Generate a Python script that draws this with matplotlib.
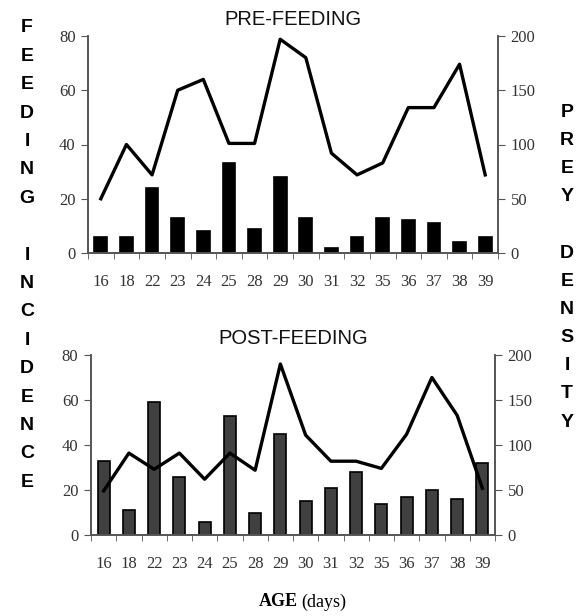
import numpy as np
import matplotlib.pyplot as plt
from matplotlib.ticker import FixedLocator

#---------------------data-------------------------------------------------------------------------
days = ['16', '18', '22', '23', '24', '25', '28', '29', '30', '31', '32', '35', '36', '37', '38', '39']

# feeding incidence (left axis, bars)
pre_feeding = [6, 6, 24, 13, 8, 33, 9, 28, 13, 2, 6, 13, 12, 11, 4, 6]
post_feeding = [33, 11, 59, 26, 6, 53, 10, 45, 15, 21, 28, 14, 17, 20, 16, 32]

# prey density (right axis, line)
pre_prey = [50, 100, 72, 150, 160, 101, 101, 197, 180, 92, 72, 83, 134, 134, 174, 72]
post_prey = [49, 91, 73, 91, 62, 91, 72, 190, 111, 82, 82, 74, 112, 175, 133, 52]

serif = 'Liberation Serif'
sans = 'Liberation Sans'
axcol = '#555555'
txtcol = '#333333'

#---------------------one panel--------------------------------------------------------------------
def style_labels(labels):
    for lab in labels:
        lab.set_fontfamily(serif)
        lab.set_fontsize(12)
        lab.set_color(txtcol)

def panel(rect, bars, prey, title, barcolor, width):
    ax = fig.add_axes(rect)
    x = np.arange(len(days))
    ax.bar(x, bars, width=width, color=barcolor, edgecolor='black', linewidth=1.2, zorder=2)
    ax.set_xlim(-0.5, len(days) - 0.5)
    ax.set_ylim(0, 80)
    ax.set_yticks([0, 20, 40, 60, 80])
    ax.set_xticks(x)
    ax.set_xticklabels(days)
    ax.xaxis.set_minor_locator(FixedLocator(np.arange(-0.5, len(days), 1.0)))
    ax.tick_params(axis='x', which='major', length=0, pad=15)
    ax.tick_params(axis='x', which='minor', length=4, color=axcol, direction='out')
    ax.tick_params(axis='y', length=5, color=axcol, pad=4)
    style_labels(ax.get_xticklabels() + ax.get_yticklabels())
    ax.spines['top'].set_visible(False)
    for s in ['left', 'right', 'bottom']:
        ax.spines[s].set_color(axcol)
        ax.spines[s].set_linewidth(1.2)

    ax2 = ax.twinx()
    ax2.plot(x, prey, color='black', linewidth=2.4, zorder=3)
    ax2.set_ylim(0, 200)
    ax2.set_yticks([0, 50, 100, 150, 200])
    ax2.tick_params(axis='y', length=5, color=axcol, pad=4)
    style_labels(ax2.get_yticklabels())
    ax2.spines['top'].set_visible(False)
    for s in ['left', 'right', 'bottom']:
        ax2.spines[s].set_color(axcol)
        ax2.spines[s].set_linewidth(1.2)
    ax.set_title(title, fontfamily=sans, fontsize=14.5, pad=8, color='#111111')
    return ax

#---------------------figure-----------------------------------------------------------------------
W, H = 581, 616
fig = plt.figure(figsize=(W / 100, H / 100), dpi=100)

def rect(l, t, r, b):
    return [l / W, 1 - b / H, (r - l) / W, (b - t) / H]

panel(rect(88, 36, 498, 253), pre_feeding, pre_prey, 'PRE-FEEDING', 'black', 0.5)
panel(rect(91, 355, 495, 535), post_feeding, post_prey, 'POST-FEEDING', '#404040', 0.48)

# stacked vertical labels
left_word = 'FEEDING INCIDENCE'
for i, ch in enumerate(left_word):
    fig.text(27 / W, 1 - (28 + i * 28.4) / H, ch, fontfamily=sans, fontweight='bold',
             fontsize=14, ha='center', va='center')
right_word = 'PREY DENSITY'
for i, ch in enumerate(right_word):
    fig.text(567 / W, 1 - (112 + i * 28.2) / H, ch, fontfamily=sans, fontweight='bold',
             fontsize=14, ha='center', va='center')

fig.text(298 / W, 1 - 602 / H, 'AGE', fontfamily=serif, fontweight='bold', fontsize=13,
         ha='right', va='center')
fig.text(301 / W, 1 - 602 / H, '(days)', fontfamily=serif, fontsize=13, ha='left', va='center')

fig.savefig('out.png', dpi=100)
